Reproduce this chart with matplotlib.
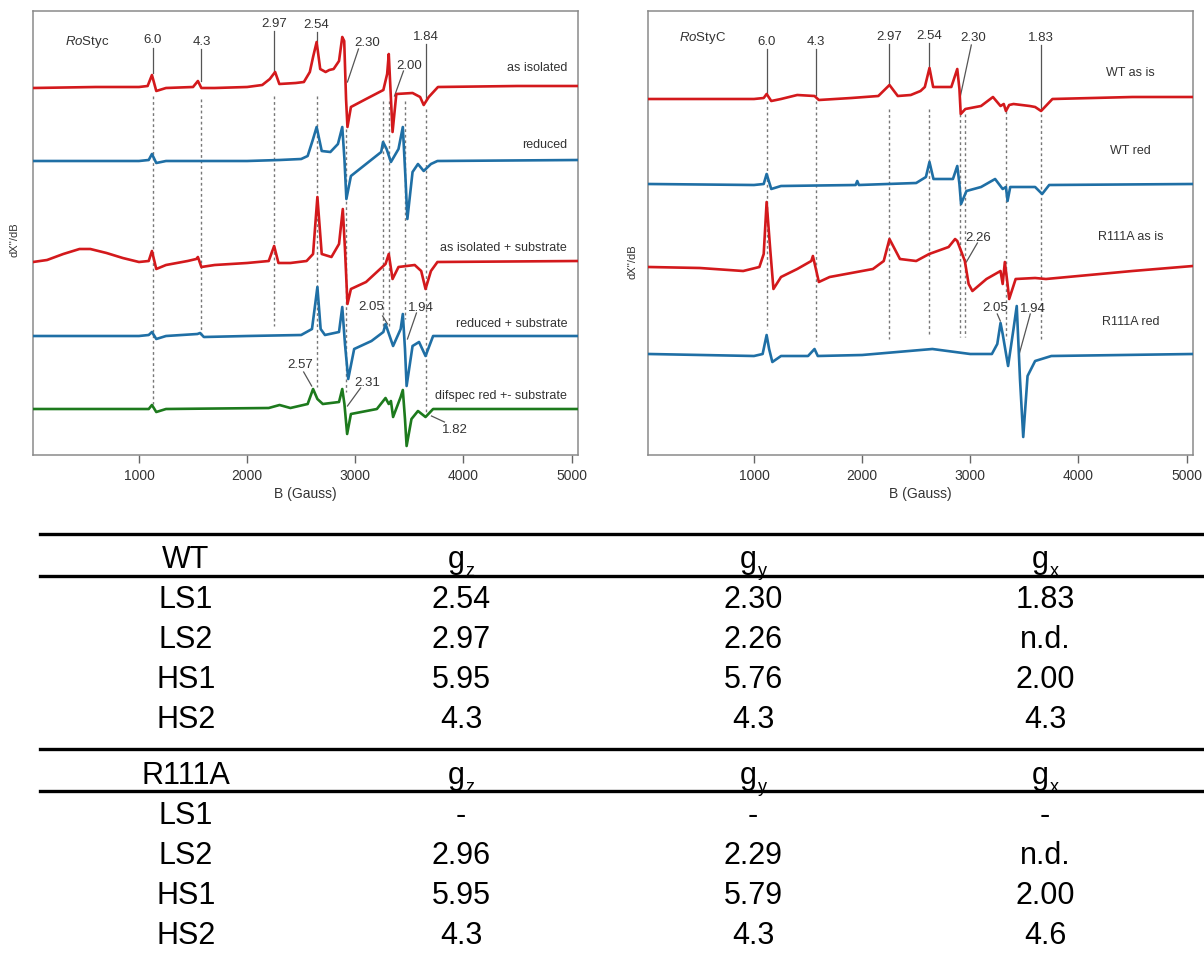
import matplotlib
matplotlib.use("Agg")
import numpy as np
import matplotlib.pyplot as plt

plt.rcParams['font.family'] = ['Liberation Sans', 'DejaVu Sans']
plt.rcParams['mathtext.fontset'] = 'custom'
plt.rcParams['mathtext.it'] = 'Liberation Sans:italic'
plt.rcParams['mathtext.rm'] = 'Liberation Sans'

# ---- spectra: (field in Gauss, signal relative to baseline, arbitrary units) ----
iso_B = [20, 600, 1000, 1080, 1120, 1160, 1250, 1500, 1545, 1577, 1700, 2000, 2140, 2210, 2259, 2298,
         2450, 2525, 2580, 2610, 2643, 2676, 2726, 2760, 2800, 2850, 2880, 2898, 2915, 2928, 2960, 3100,
         3260, 3295, 3310, 3345, 3380, 3530, 3600, 3633, 3680, 3765, 4500, 5060]
iso_S = [-1, 0, 0, 1, 12, -4, -1, 0, 6, -1, -1, 0, 2, 8, 15, 3, 4, 5, 15, 30, 45, 18, 15, 17, 18, 26,
         50, 46, -12, -40, -20, -12, -3, 13, 33, -45, -7, -6, -10, -18, -10, 0, 1, 1]

red_B = [20, 1000, 1090, 1120, 1160, 1250, 2000, 2300, 2500, 2560, 2610, 2643, 2690, 2770, 2840, 2880,
         2900, 2918, 2960, 3100, 3240, 3257, 3290, 3330, 3400, 3440, 3465, 3482, 3530, 3580, 3633, 3700,
         3760, 5060]
red_S = [0, 0, 1, 7, -2, 0, 0, 1, 2, 5, 22, 34, 10, 9, 17, 34, 2, -38, -15, -3, 9, 19, 12, -1, 12, 34,
         -18, -58, -11, -3, -10, -3, 0, 1]

isoS_B = [20, 150, 300, 450, 550, 700, 850, 1000, 1090, 1120, 1160, 1250, 1450, 1530, 1545, 1577, 1700,
          2000, 2200, 2250, 2290, 2400, 2550, 2610, 2650, 2690, 2780, 2850, 2885, 2905, 2928, 2960, 3100,
          3280, 3310, 3345, 3400, 3550, 3610, 3650, 3700, 3760, 5060]
isoS_S = [0, 2, 8, 13, 13, 9, 4, 0, 1, 11, -7, -3, 1, 3, 5, -5, -3, -1, 1, 16, -1, -1, 1, 8, 65, 8, 5,
          18, 53, 13, -42, -27, -20, -2, 8, -17, -5, -3, -9, -27, -9, 0, 1]

redS_B = [20, 1000, 1090, 1120, 1160, 1250, 1540, 1565, 1600, 2000, 2500, 2600, 2630, 2650, 2680, 2720,
          2850, 2880, 2905, 2935, 2990, 3150, 3260, 3280, 3350, 3420, 3440, 3460, 3475, 3530, 3590, 3650,
          3720, 5060]
redS_S = [0, 0, 1, 4, -3, 0, 2, 3, -1, 0, 1, 7, 32, 49, 7, 1, 4, 29, -8, -43, -13, -5, 4, 12, -10, 7, 22,
          -13, -50, -10, -6, -20, 0, 0]

dif_B = [20, 1000, 1090, 1120, 1160, 1250, 2200, 2300, 2400, 2560, 2610, 2650, 2700, 2850, 2880, 2900,
         2925, 2960, 3200, 3280, 3310, 3330, 3350, 3420, 3440, 3460, 3475, 3520, 3580, 3650, 3720, 5060]
dif_S = [0, 0, 0, 4, -3, 0, 1, 4, 1, 5, 20, 10, 5, 7, 20, 5, -25, -5, 0, 11, 5, 8, -8, 12, 19, -10, -37,
         -10, -2, -8, 0, 0]

wt_B = [28, 500, 1000, 1090, 1117, 1160, 1250, 1400, 1560, 1600, 1900, 2150, 2253, 2330, 2450, 2540,
        2580, 2623, 2657, 2825, 2880, 2900, 2912, 2955, 3100, 3210, 3280, 3310, 3330, 3360, 3400, 3550,
        3600, 3655, 3760, 4500, 5060]
wt_S = [-1, -1, -1, 0, 4, -3, -1, 3, 2, -2, 0, 2, 13, 2, 3, 7, 11, 30, 11, 11, 29, 9, -16, -11, -8, 1,
        -8, -6, -13, -7, -6, -8, -9, -13, -1, 1, 1]

wtr_B = [28, 1000, 1090, 1117, 1160, 1250, 1940, 1955, 1970, 2500, 2590, 2623, 2660, 2840, 2880, 2900,
         2915, 2965, 3100, 3230, 3300, 3330, 3345, 3370, 3600, 3665, 3730, 5060]
wtr_S = [0, -1, 0, 10, -5, -2, -1, 3, -1, 1, 7, 22, 5, 5, 18, 0, -20, -7, -3, 5, -5, -3, -17, -3, -3, -10,
         -1, 0]

mut_B = [28, 500, 900, 1050, 1090, 1117, 1150, 1180, 1250, 1400, 1530, 1545, 1600, 1700, 2100, 2200,
         2253, 2350, 2500, 2620, 2800, 2860, 2880, 2950, 2985, 3020, 3150, 3280, 3300, 3320, 3345, 3360,
         3420, 3600, 3700, 4500, 5060]
mut_S = [0, -1, -4, 0, 13, 65, 18, -22, -10, -2, 6, 11, -15, -10, -2, 6, 28, 8, 6, 13, 20, 28, 26, 6, -17,
         -24, -12, -4, -17, 5, -17, -32, -12, -11, -12, -4, 1]

mutr_B = [28, 1000, 1080, 1117, 1140, 1170, 1250, 1500, 1560, 1590, 2000, 2650, 3000, 3200, 3250, 3280,
          3300, 3350, 3400, 3430, 3460, 3490, 3530, 3600, 3750, 5060]
mutr_S = [0, -2, 0, 19, 5, -8, -2, -2, 5, -2, -1, 5, 0, 0, 10, 31, 20, -12, 25, 48, -25, -83, -22, -7, -2, 0]

left_traces = [(iso_B, iso_S), (red_B, red_S), (isoS_B, isoS_S), (redS_B, redS_S), (dif_B, dif_S)]
left_names = ["as isolated", "reduced", "as isolated + substrate", "reduced + substrate",
              "difspec red +- substrate"]
right_traces = [(wt_B, wt_S), (wtr_B, wtr_S), (mut_B, mut_S), (mutr_B, mutr_S)]
right_names = ["WT as is", "WT red", "R111A as is", "R111A red"]

# g-value marker fields (Gauss)
left_guides = [1128, 1577, 2250, 2643, 2911, 3257, 3310, 3456, 3650]
right_guides = [1117, 1570, 2253, 2623, 2901, 2952, 3334, 3650]

# g-value labels
left_gvals = ["6.0", "4.3", "2.97", "2.54", "2.30", "1.84", "2.00", "2.05", "1.94", "2.57", "2.31", "1.82"]
right_gvals = ["6.0", "4.3", "2.97", "2.54", "2.30", "1.83", "2.26", "2.05", "1.94"]

# table
col_heads = ["g", "g", "g"]
col_subs = ["z", "y", "x"]
wt_rows = ["LS1", "LS2", "HS1", "HS2"]
wt_vals = [["2.54", "2.30", "1.83"], ["2.97", "2.26", "n.d."], ["5.95", "5.76", "2.00"], ["4.3", "4.3", "4.3"]]
mut_rows = ["LS1", "LS2", "HS1", "HS2"]
mut_vals = [["-", "-", "-"], ["2.96", "2.29", "n.d."], ["5.95", "5.79", "2.00"], ["4.3", "4.3", "4.6"]]

RED, BLUE, GREEN = '#d3191c', '#1f6fa5', '#1d7a1d'
TXT = '#333333'

W, H = 1204, 962
fig = plt.figure(figsize=(W / 100, H / 100), dpi=100)


def yp(pix):
    # vertical pixel position -> data units (ylim 0..444, axes bottom at pixel 456)
    return 456 - pix


def setup(ax):
    ax.set_xlim(20, 5060)
    ax.set_ylim(0, 444)
    ax.set_yticks([])
    ax.set_xticks([1000, 2000, 3000, 4000, 5000])
    for s in ax.spines.values():
        s.set_color('#8a8a8a')
        s.set_linewidth(1.1)
    ax.tick_params(axis='x', colors='#666666', labelcolor=TXT, labelsize=10, length=6, width=1)
    ax.set_xlabel("B (Gauss)", fontsize=10, color=TXT, labelpad=3)


def leader(ax, txt, tx, ty, x1, y1, x2, y2, size=9.5):
    ax.text(tx, yp(ty), txt, ha='center', va='center', fontsize=size, color=TXT)
    ax.plot([x1, x2], [yp(y1), yp(y2)], color='#555555', lw=0.9)


# ---------------- left panel ----------------
axL = fig.add_axes([33 / W, 1 - 456 / H, 545 / W, 444 / H])
setup(axL)
left_base = [88, 162, 263, 337, 410]
left_col = [RED, BLUE, RED, BLUE, GREEN]
left_lab_y = [68, 145, 248, 324, 396]
guide_spans_L = [(97, 405), (100, 338), (97, 327), (97, 388), (130, 393), (102, 327), (102, 327), (102, 320), (110, 417)]
for g, (t, b) in zip(left_guides, guide_spans_L):
    axL.plot([g, g], [yp(t), yp(b)], color='#777777', lw=1.0, ls=(0, (2, 2)), zorder=1)
for (B, S), base, c, name, ly in zip(left_traces, left_base, left_col, left_names, left_lab_y):
    axL.plot(B, yp(base) + np.array(S), color=c, lw=1.9, zorder=3)
    axL.text(4960, yp(ly), name, ha='right', va='center', fontsize=9, color=TXT)
axL.text(525, yp(42), r'$\it{Ro}$Styc', ha='center', va='center', fontsize=9.5, color=TXT)

leader(axL, left_gvals[0], 1128, 40, 1128, 49, 1128, 74)
leader(axL, left_gvals[1], 1580, 42, 1577, 50, 1577, 82)
leader(axL, left_gvals[2], 2250, 24, 2250, 32, 2250, 72)
leader(axL, left_gvals[3], 2643, 25, 2643, 33, 2643, 43)
leader(axL, left_gvals[4], 3113, 43, 3030, 50, 2928, 83)
leader(axL, left_gvals[5], 3650, 37, 3650, 45, 3650, 100)
leader(axL, left_gvals[6], 3502, 66, 3446, 72, 3363, 97)
leader(axL, left_gvals[7], 3150, 307, 3253, 317, 3298, 325)
leader(axL, left_gvals[8], 3603, 308, 3566, 314, 3483, 340)
leader(axL, left_gvals[9], 2495, 365, 2523, 373, 2597, 387)
leader(axL, left_gvals[10], 3113, 383, 3049, 389, 2928, 407)
leader(axL, left_gvals[11], 3917, 430, 3825, 423, 3705, 417)
fig.text(15 / W, 1 - 240 / H, "dX''/dB", rotation=90, ha='center', va='center', fontsize=8, color=TXT)

# ---------------- right panel ----------------
axR = fig.add_axes([648 / W, 1 - 456 / H, 545 / W, 444 / H])
setup(axR)
right_base = [99, 185, 268, 355]
right_col = [RED, BLUE, RED, BLUE]
right_lab_y = [73, 151, 237, 322]
guide_spans_R = [(102, 330), (102, 342), (110, 340), (110, 335), (115, 338), (115, 338), (112, 340), (115, 342)]
for g, (t, b) in zip(right_guides, guide_spans_R):
    axR.plot([g, g], [yp(t), yp(b)], color='#777777', lw=1.0, ls=(0, (2, 2)), zorder=1)
for (B, S), base, c, name, ly in zip(right_traces, right_base, right_col, right_names, right_lab_y):
    axR.plot(B, yp(base) + np.array(S), color=c, lw=1.9, zorder=3)
    axR.text(4480, yp(ly), name, ha='center', va='center', fontsize=9, color=TXT)
axR.text(526, yp(38), r'$\it{Ro}$StyC', ha='center', va='center', fontsize=9.5, color=TXT)

leader(axR, right_gvals[0], 1117, 42, 1117, 50, 1117, 95)
leader(axR, right_gvals[1], 1570, 42, 1570, 50, 1570, 96)
leader(axR, right_gvals[2], 2253, 37, 2253, 45, 2253, 85)
leader(axR, right_gvals[3], 2623, 36, 2623, 44, 2623, 68)
leader(axR, right_gvals[4], 3029, 38, 3010, 46, 2909, 97)
leader(axR, right_gvals[5], 3650, 38, 3650, 46, 3650, 110)
leader(axR, right_gvals[6], 3075, 238, 3066, 244, 2964, 263)
leader(axR, right_gvals[7], 3232, 308, 3250, 315, 3278, 322)
leader(axR, right_gvals[8], 3583, 309, 3555, 315, 3453, 355)
fig.text(632 / W, 1 - 262 / H, "dX''/dB", rotation=90, ha='center', va='center', fontsize=8, color=TXT)

# ---------------- table ----------------
TF = ['Liberation Sans', 'DejaVu Sans']
TS = 22
col_x = [186, 461, 753, 1045]


def hline(ypix):
    fig.add_artist(plt.Line2D([40 / W, 1.0], [1 - ypix / H, 1 - ypix / H], color='black', lw=2.4))


def block(head, rows, vals, y_head):
    fig.text(col_x[0] / W, 1 - y_head / H, head, ha='center', va='baseline', fontsize=TS, family=TF)
    for i in range(3):
        fig.text((col_x[i + 1] - 5) / W, 1 - y_head / H, col_heads[i], ha='center', va='baseline',
                 fontsize=TS, family=TF)
        fig.text((col_x[i + 1] + 9) / W, 1 - (y_head + 8) / H, col_subs[i], ha='center', va='baseline',
                 fontsize=13, family=TF)
    for r, (name, row) in enumerate(zip(rows, vals)):
        yb = y_head + 40 * (r + 1)
        fig.text(col_x[0] / W, 1 - yb / H, name, ha='center', va='baseline', fontsize=TS, family=TF)
        for i, v in enumerate(row):
            fig.text(col_x[i + 1] / W, 1 - yb / H, v, ha='center', va='baseline', fontsize=TS, family=TF)


hline(535)
hline(577)
block("WT", wt_rows, wt_vals, 568)
hline(750)
hline(792)
block("R111A", mut_rows, mut_vals, 784)

fig.savefig("out.png", dpi=100)
